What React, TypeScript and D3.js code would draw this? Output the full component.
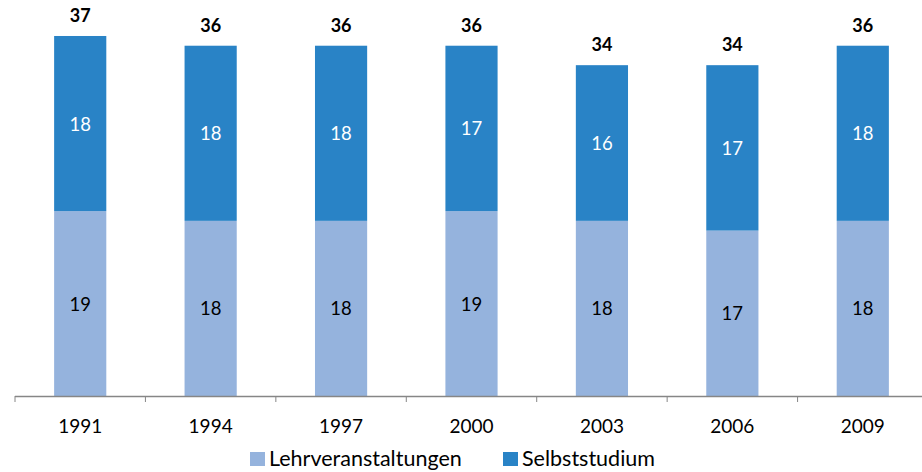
import { useEffect, useRef } from 'react';
import * as d3 from 'd3';

const years = ['1991', '1994', '1997', '2000', '2003', '2006', '2009'];
const lehrveranstaltungen = [19, 18, 18, 19, 18, 17, 18];
const selbststudium = [18, 18, 18, 17, 16, 17, 18];
const totals = [37, 36, 36, 36, 34, 34, 36];
const seriesNames = ['Lehrveranstaltungen', 'Selbststudium'];

const LIGHT = '#95b3dd';
const DARK = '#2983c6';
const FONT = 'Lato, "Open Sans", sans-serif';

const App = () => {
  const svgRef = useRef<SVGSVGElement>(null);

  useEffect(() => {
    if (!svgRef.current) return;
    const width = 922;
    const height = 472;
    const axisY = 396;

    d3.select(svgRef.current).selectAll('*').remove();
    const svg = d3.select(svgRef.current).attr('width', width).attr('height', height);

    const x = d3.scaleBand<string>().domain(years).range([15, 928]).paddingInner(0.6).paddingOuter(0.3);
    const y = d3.scaleLinear().domain([0, 40]).range([axisY, axisY - 40 * 9.73]);

    const rows = years.map((yr, i) => ({
      year: yr,
      Lehrveranstaltungen: lehrveranstaltungen[i],
      Selbststudium: selbststudium[i],
      total: totals[i]
    }));

    const stack = d3.stack<typeof rows[0]>().keys(seriesNames);
    const layers = stack(rows);
    const colors = [LIGHT, DARK];
    const labelColors = ['#000', '#fff'];

    layers.forEach((layer, li) => {
      const g = svg.append('g');
      g.selectAll('rect')
        .data(layer)
        .enter()
        .append('rect')
        .attr('x', d => x(d.data.year)!)
        .attr('width', x.bandwidth())
        .attr('y', d => y(d[1]))
        .attr('height', d => y(d[0]) - y(d[1]))
        .attr('fill', colors[li]);

      g.selectAll('text')
        .data(layer)
        .enter()
        .append('text')
        .attr('x', d => x(d.data.year)! + x.bandwidth() / 2)
        .attr('y', d => (y(d[0]) + y(d[1])) / 2)
        .attr('text-anchor', 'middle')
        .attr('dominant-baseline', 'central')
        .attr('font-family', FONT)
        .attr('font-size', 18.5)
        .attr('fill', labelColors[li])
        .text(d => d[1] - d[0]);
    });

    // totals on top
    svg.append('g')
      .selectAll('text')
      .data(rows)
      .enter()
      .append('text')
      .attr('x', d => x(d.year)! + x.bandwidth() / 2)
      .attr('y', d => y(d.total) - 21)
      .attr('text-anchor', 'middle')
      .attr('dominant-baseline', 'central')
      .attr('font-family', FONT)
      .attr('font-size', 18)
      .attr('font-weight', 'bold')
      .attr('fill', '#000')
      .text(d => d.total);

    // x axis
    const axis = svg.append('g');
    axis.append('line')
      .attr('x1', 15).attr('x2', width)
      .attr('y1', axisY + 0.5).attr('y2', axisY + 0.5)
      .attr('stroke', '#868686').attr('stroke-width', 1.5);
    const step = x.step();
    axis.selectAll('.tick')
      .data(d3.range(years.length + 1))
      .enter()
      .append('line')
      .attr('x1', i => 15 + i * step).attr('x2', i => 15 + i * step)
      .attr('y1', axisY).attr('y2', axisY + 6)
      .attr('stroke', '#868686').attr('stroke-width', 1);
    axis.selectAll('text')
      .data(years)
      .enter()
      .append('text')
      .attr('x', d => x(d)! + x.bandwidth() / 2)
      .attr('y', 425)
      .attr('text-anchor', 'middle')
      .attr('dominant-baseline', 'central')
      .attr('font-family', FONT)
      .attr('font-size', 19)
      .attr('fill', '#000')
      .text(d => d);

    // legend
    const legendX = [250, 503];
    const legend = svg.append('g');
    seriesNames.forEach((name, i) => {
      legend.append('rect')
        .attr('x', legendX[i]).attr('y', 452)
        .attr('width', 15).attr('height', 14)
        .attr('fill', colors[i]);
      legend.append('text')
        .attr('x', legendX[i] + 19).attr('y', 466)
        .attr('font-family', FONT)
        .attr('font-size', 21.5)
        .attr('fill', '#000')
        .text(name);
    });
  }, []);

  return (
    <div style={{ position: 'absolute', left: 0, top: 0 }}>
      <svg ref={svgRef}></svg>
    </div>
  );
};

export default App;
